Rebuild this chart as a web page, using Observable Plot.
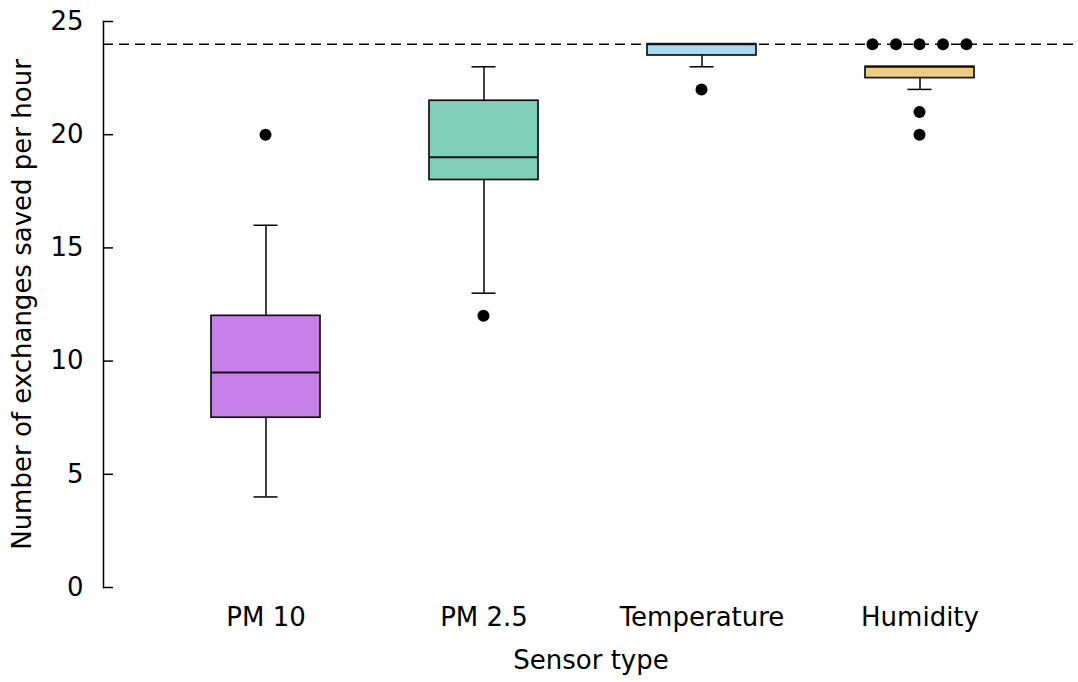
<!DOCTYPE html>
<html>
<head>
<meta charset="utf-8">
<script src="https://cdn.jsdelivr.net/npm/d3@7"></script>
<script src="https://cdn.jsdelivr.net/npm/@observablehq/plot@0.6"></script>
<style>
  html, body { margin: 0; padding: 0; background: #fff; }
</style>
</head>
<body>
<div id="chart"></div>
<script>
// Categories and box statistics
const categories = ["PM 10", "PM 2.5", "Temperature", "Humidity"];
const boxColors = ["#c77fe9", "#80cfb8", "#aadaf3", "#f2cd80"];
const q1Values = [7.5, 18, 23.5, 22.5];
const medianValues = [9.5, 19, 24, 23];
const q3Values = [12, 21.5, 24, 23];
const whiskerLow = [4, 13, 23, 22];
const whiskerHigh = [16, 23, 24, 23];
// Outliers: category, value, count of coincident points
const outlierCategories = ["PM 10", "PM 2.5", "Temperature", "Humidity", "Humidity", "Humidity"];
const outlierValues = [20, 12, 22, 24, 21, 20];
const outlierCounts = [1, 1, 1, 5, 1, 1];
const referenceValue = 24;
const yTicks = [0, 5, 10, 15, 20, 25];

const boxes = categories.map((c, i) => ({
  category: c, color: boxColors[i], q1: q1Values[i], median: medianValues[i],
  q3: q3Values[i], lo: whiskerLow[i], hi: whiskerHigh[i]
}));
const outliers = [];
outlierCategories.forEach((c, i) => {
  const n = outlierCounts[i];
  for (let k = 0; k < n; k++) outliers.push({category: c, value: outlierValues[i], k, n});
});

const FS = 26;
const chart = Plot.plot({
  width: 1078,
  height: 682,
  marginTop: 21,
  marginBottom: 95,
  marginLeft: 103,
  marginRight: 0,
  style: {fontFamily: "'DejaVu Sans', sans-serif", fontSize: FS + "px", background: "#fff", color: "#000", overflow: "visible"},
  x: {domain: categories, range: [155, 1029], paddingInner: 0.5, paddingOuter: 0.25, label: null},
  y: {domain: [0, 25], label: null},
  color: {type: "identity"},
  marks: [
    Plot.frame({anchor: "left", stroke: "#000", strokeWidth: 1.5}),
    Plot.axisY({ticks: yTicks, tickSize: -10, tickPadding: 30, tickFormat: d => String(d), label: null, stroke: "#000", strokeWidth: 1.5, fontSize: FS}),
    Plot.axisX({tickSize: 0, tickPadding: 20, label: null, fontSize: FS}),
    Plot.ruleY([referenceValue], {stroke: "#000", strokeWidth: 1.5, strokeDasharray: "10,6"}),
    Plot.ruleX(boxes, {x: "category", y1: "lo", y2: "q1", stroke: "#000", strokeWidth: 1.5}),
    Plot.ruleX(boxes, {x: "category", y1: "q3", y2: "hi", stroke: "#000", strokeWidth: 1.5}),
    Plot.tickY(boxes, {x: "category", y: "lo", insetLeft: 42.5, insetRight: 42.5, stroke: "#000", strokeWidth: 1.5}),
    Plot.tickY(boxes, {x: "category", y: "hi", insetLeft: 42.5, insetRight: 42.5, stroke: "#000", strokeWidth: 1.5}),
    Plot.barY(boxes, {x: "category", y1: "q1", y2: "q3", fill: "color", stroke: "#111", strokeWidth: 1.7}),
    Plot.tickY(boxes, {x: "category", y: "median", stroke: "#111", strokeWidth: 2}),
    Plot.dot(outliers, {x: "category", y: "value", r: 6, fill: "#000", stroke: null}),
    Plot.text(["Number of exchanges saved per hour"], {frameAnchor: "left", rotate: -90, dx: -81, textAnchor: "middle", text: d => d, fontSize: FS, fill: "#000"}),
    Plot.text(["Sensor type"], {frameAnchor: "bottom", dy: 81, textAnchor: "middle", text: d => d, fontSize: FS, fill: "#000"})
  ]
});
document.getElementById("chart").appendChild(chart);

// Center outliers on their box (in screen space) and spread coincident ones horizontally
const centers = {};
d3.select(chart).selectAll("rect").each(function() {
  const f = (this.getAttribute("fill") || "").toLowerCase();
  const idx = boxColors.indexOf(f);
  if (idx >= 0) {
    const m = this.getCTM();
    centers[categories[idx]] = m.e + +this.getAttribute("x") + +this.getAttribute("width") / 2;
  }
});
d3.select(chart).selectAll("circle").each(function(_, i) {
  const d = outliers[i];
  if (!d || centers[d.category] === undefined) return;
  const m = this.getCTM();
  const target = centers[d.category] + (d.k - (d.n - 1) / 2) * 23.5;
  this.setAttribute("cx", target - m.e);
});
</script>
</body>
</html>
